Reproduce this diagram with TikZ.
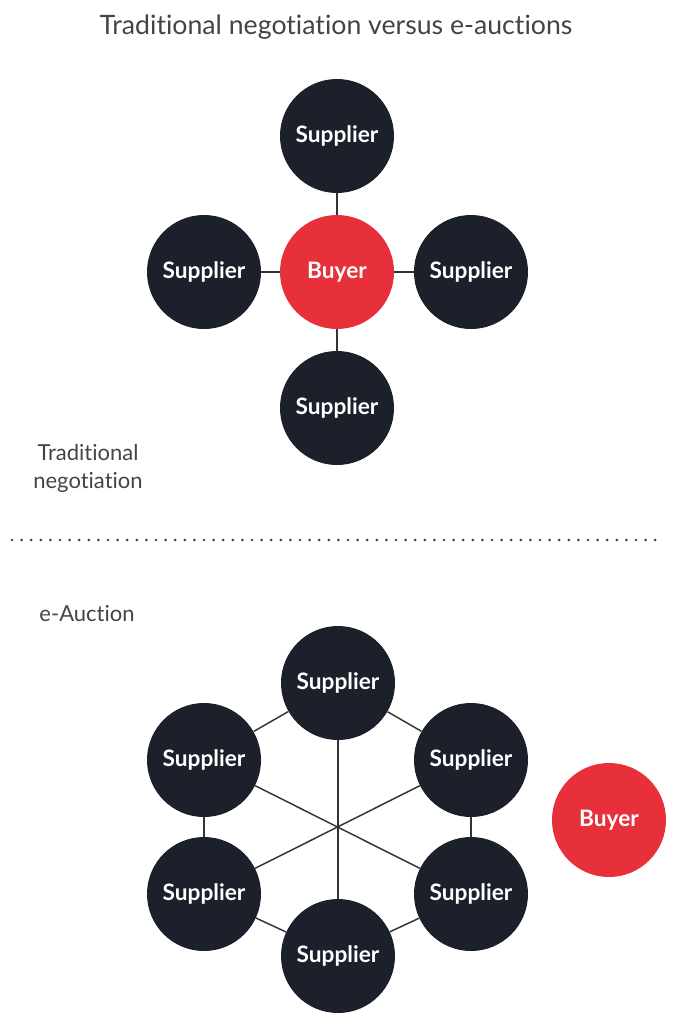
\documentclass[tikz,border=0pt]{standalone}
\usepackage{fontspec}
\setmainfont{Lato}[Ligatures=NoCommon]
\usepackage{tikz}
\usetikzlibrary{positioning}
\definecolor{navy}{RGB}{27, 32, 43}
\definecolor{buyred}{RGB}{232, 48, 58}
\definecolor{txtgray}{RGB}{68, 68, 68}
\definecolor{linegray}{RGB}{51, 51, 51}

\begin{document}
\begin{tikzpicture}[x=0.75pt, y=-0.75pt,
    party/.style={circle, minimum size=85.5pt, inner sep=0pt,
      font=\fontsize{17}{20}\selectfont\bfseries, text=white},
    supplier/.style={party, fill=navy},
    buyer/.style={party, fill=buyred},
    link/.style={draw=linegray, line width=1.1pt},
    caption/.style={text=txtgray, font=\fontsize{16.5}{21}\selectfont, align=center}]
  \useasboundingbox (0,0) rectangle (678,1024);
  \node[text=txtgray, font=\fontsize{20}{24}\selectfont] (title) at (336,27)
    {Traditional negotiation versus e-auctions};
  % traditional negotiation
  \node[buyer] (b) at (337,272) {Buyer};
  \node[supplier] (n) at (337,136) {Supplier};
  \node[supplier] (w) at (204,272) {Supplier};
  \node[supplier] (e) at (471,272) {Supplier};
  \node[supplier] (s) at (337,408) {Supplier};
  \draw[link] (b) -- (n);
  \draw[link] (b) -- (w);
  \draw[link] (b) -- (e);
  \draw[link] (b) -- (s);
  \node[caption] (trad) at (88,468) {Traditional\\negotiation};
  % separator
  \coordinate (sepl) at (12,540);
  \coordinate (sepr) at (662,540);
  \draw[txtgray, line width=2.2pt, line cap=round, dash pattern=on 0pt off 7.2pt] (sepl) -- (sepr);
  % e-auction
  \node[caption] (eauc) at (87,614) {e-Auction};
  \node[supplier] (t) at (338,683) {Supplier};
  \node[supplier] (ul) at (204,760) {Supplier};
  \node[supplier] (ur) at (471,760) {Supplier};
  \node[supplier] (ll) at (204,894) {Supplier};
  \node[supplier] (lr) at (471,894) {Supplier};
  \node[supplier] (bt) at (338,956) {Supplier};
  \node[buyer] (eb) at (609,820) {Buyer};
  \draw[link] (t) -- (ul);
  \draw[link] (t) -- (ur);
  \draw[link] (ul) -- (ll);
  \draw[link] (ur) -- (lr);
  \draw[link] (ll) -- (bt);
  \draw[link] (lr) -- (bt);
  % diagonals
  \draw[link] (t) -- (bt);
  \draw[link] (ul) -- (lr);
  \draw[link] (ur) -- (ll);
\end{tikzpicture}
\end{document}
